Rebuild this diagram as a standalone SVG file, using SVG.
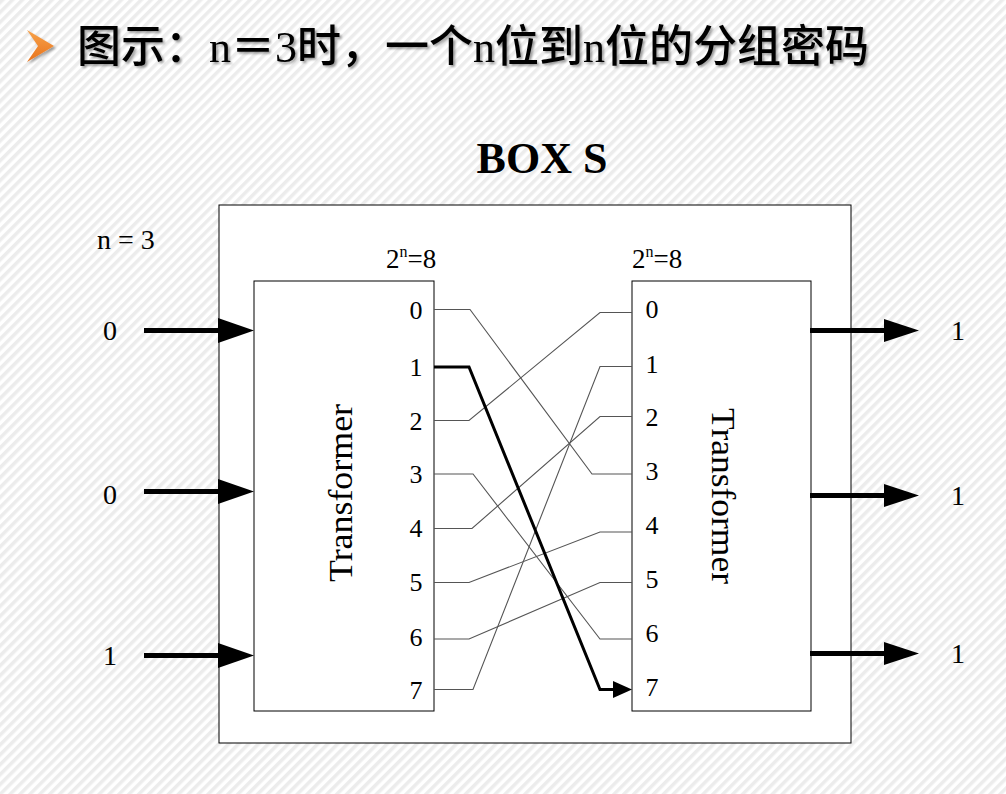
<svg xmlns="http://www.w3.org/2000/svg" width="1006" height="794" viewBox="0 0 1006 794">
<defs>
<pattern id="stripes" patternUnits="userSpaceOnUse" width="7" height="7" patternTransform="rotate(45)">
<rect width="7" height="7" fill="#ffffff"/>
<rect width="3.5" height="7" fill="#ececec"/>
</pattern>
<filter id="shadow" x="-5%" y="-20%" width="110%" height="150%">
<feDropShadow dx="2" dy="2" stdDeviation="1.2" flood-color="#000" flood-opacity="0.35"/>
</filter>
<linearGradient id="orange" x1="0" y1="0" x2="0" y2="1">
<stop offset="0" stop-color="#f7a24a"/>
<stop offset="1" stop-color="#e8731c"/>
</linearGradient>
</defs>
<style>
.t{font-family:"Liberation Serif","Times New Roman",serif;fill:#000}
.lbl{font-size:28px}
.port{font-size:26px;text-anchor:middle}
.box{fill:#fff;stroke:#000;stroke-width:1}
.wire{fill:none;stroke:#555;stroke-width:1.1}
.thick{fill:none;stroke:#000;stroke-width:3}
.arr{stroke:#000;stroke-width:5;fill:none}
</style>
<rect width="1006" height="794" fill="url(#stripes)"/>

<g id="title" filter="url(#shadow)">
<polygon points="27,30 54,46 27,62 38,46" fill="url(#orange)"/>
<text x="77" y="62" style="font-family:'Liberation Serif','Noto Sans CJK SC',serif;font-size:44px;font-weight:500;fill:#000">图示：n＝3时，一个n位到n位的分组密码</text>
</g>

<g id="heading">
<text class="t" x="542" y="173" text-anchor="middle" style="font-size:44px;font-weight:bold">BOX S</text>
</g>

<g id="sbox">
<rect class="box" x="219" y="205" width="632" height="538"/>
</g>

<g id="n-label">
<text class="t lbl" x="97" y="249">n = 3</text>
</g>

<g id="transformer-left">
<rect class="box" x="254" y="281" width="180" height="430"/>
<text class="t" x="386" y="268" style="font-size:27px">2<tspan dy="-11" style="font-size:16px">n</tspan><tspan dy="11">=8</tspan></text>
<text class="t" transform="translate(352,493) rotate(-90)" text-anchor="middle" style="font-size:33px" textLength="178" lengthAdjust="spacingAndGlyphs">Transformer</text>
<text class="t port" x="416" y="319">0</text>
<text class="t port" x="416" y="376">1</text>
<text class="t port" x="416" y="430">2</text>
<text class="t port" x="416" y="483">3</text>
<text class="t port" x="416" y="537">4</text>
<text class="t port" x="416" y="591">5</text>
<text class="t port" x="416" y="646">6</text>
<text class="t port" x="416" y="699">7</text>
</g>

<g id="transformer-right">
<rect class="box" x="632" y="281" width="179" height="430"/>
<text class="t" x="632" y="268" style="font-size:27px">2<tspan dy="-11" style="font-size:16px">n</tspan><tspan dy="11">=8</tspan></text>
<text class="t" transform="translate(712,496) rotate(90)" text-anchor="middle" style="font-size:33px" textLength="176" lengthAdjust="spacingAndGlyphs">Transformer</text>
<text class="t port" x="652" y="318">0</text>
<text class="t port" x="652" y="373">1</text>
<text class="t port" x="652" y="426">2</text>
<text class="t port" x="652" y="480">3</text>
<text class="t port" x="652" y="534">4</text>
<text class="t port" x="652" y="588">5</text>
<text class="t port" x="652" y="642">6</text>
<text class="t port" x="652" y="696">7</text>
</g>

<g id="inputs">
<text class="t lbl" x="110" y="340" text-anchor="middle">0</text>
<text class="t lbl" x="110" y="504" text-anchor="middle">0</text>
<text class="t lbl" x="110" y="665" text-anchor="middle">1</text>
</g>

<g id="outputs">
<text class="t lbl" x="958" y="340" text-anchor="middle">1</text>
<text class="t lbl" x="958" y="505" text-anchor="middle">1</text>
<text class="t lbl" x="958" y="663" text-anchor="middle">1</text>
</g>

<g id="connectors">
<line class="arr" x1="144" y1="330.5" x2="220" y2="330.5"/>
<polygon points="218,318 254,330.5 218,343"/>
<line class="arr" x1="144" y1="491.5" x2="220" y2="491.5"/>
<polygon points="218,479 254,491.5 218,504"/>
<line class="arr" x1="144" y1="655.5" x2="220" y2="655.5"/>
<polygon points="218,643 254,655.5 218,668"/>

<line class="arr" x1="810" y1="330.5" x2="886" y2="330.5"/>
<polygon points="884,319 919,330.5 884,342"/>
<line class="arr" x1="810" y1="495.5" x2="886" y2="495.5"/>
<polygon points="884,484 919,495.5 884,507"/>
<line class="arr" x1="810" y1="653.5" x2="886" y2="653.5"/>
<polygon points="884,642 919,653.5 884,665"/>

<polyline class="wire" points="434,309.5 470,309.5 592,474 632,474"/>
<polyline class="wire" points="434,420.5 469,420.5 600,312.5 632,312.5"/>
<polyline class="wire" points="434,474 473,474 600,639 632,639"/>
<polyline class="wire" points="434,528.5 472,528.5 600,416.5 632,416.5"/>
<polyline class="wire" points="434,582.5 469,582.5 600,532 632,532"/>
<polyline class="wire" points="434,639 469,639 600,582.5 632,582.5"/>
<polyline class="wire" points="434,689.5 473,689.5 600,366.5 632,366.5"/>
<polyline class="thick" points="434,367 469,367 600,689.5 616,689.5"/>
<polygon points="613,681 632,689.5 613,698"/>
</g>
</svg>
